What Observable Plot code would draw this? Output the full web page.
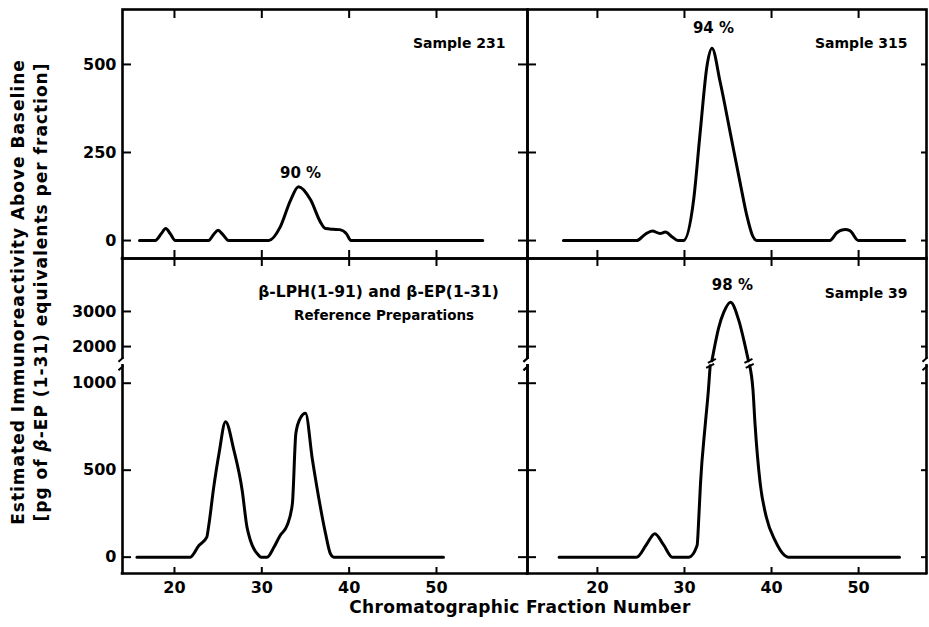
<!DOCTYPE html>
<html><head><meta charset="utf-8">
<script src="https://cdn.jsdelivr.net/npm/d3@7"></script>
<script src="https://cdn.jsdelivr.net/npm/@observablehq/plot@0.6"></script>
<style>
body{margin:0;background:#fff;}
#wrap{position:relative;width:929px;height:627px;background:#fff;font-family:"DejaVu Sans",sans-serif;font-weight:bold;color:#000;overflow:hidden;}
#wrap svg{position:absolute;left:0;top:0;}
.lab{position:absolute;white-space:nowrap;text-align:center;}
</style></head><body>
<div id="wrap"></div>
<script>
// ---- tick values ----
const fractionTicks = [20, 30, 40, 50];
const topTicks = [0, 250, 500];
const bottomTicks = [0, 500, 1000, 2000, 3000];

// ---- Sample 231 ----
const s231x = [16.0, 17.8, 18.5, 19.0, 19.5, 20.1, 23.9, 24.5, 25.0, 25.5, 26.2, 30.8, 32.1, 33.3, 34.2, 35.6, 36.7, 37.3, 38.2, 38.9, 39.7, 40.2, 55.3];
const s231y = [0, 0, 20, 34, 20, 0, 0, 18, 29, 18, 0, 0, 38, 115, 153, 115, 53, 34, 32, 31, 19, 0, 0];

// ---- Sample 315 ----
const s315x = [16.1, 24.5, 25.5, 26.3, 27.2, 27.8, 28.6, 29.3, 29.9, 31.05, 31.8, 32.6, 33.16, 34.1, 35.25, 36.4, 37.2, 37.8, 38.3, 46.7, 47.5, 48.1, 48.45, 49.0, 49.97, 55.3];
const s315y = [0, 0, 18, 27, 20, 24, 10, 0, 0, 115, 306, 498, 546, 450, 307, 163, 67, 15, 0, 0, 22, 30, 31, 28, 0, 0];

// ---- Reference preparations ----
const refx = [15.7, 21.8, 22.8, 23.7, 23.9, 24.5, 25.1, 25.85, 26.8, 27.75, 28.3, 28.7, 29.65, 29.9, 30.6, 31.4, 32.1, 32.9, 33.5, 33.9, 34.4, 35.0, 35.8, 36.5, 37.3, 37.85, 38.25, 50.8];
const refy = [0, 0, 67, 115, 173, 404, 596, 779, 615, 385, 173, 96, 10, 0, 0, 58, 125, 183, 308, 712, 798, 827, 558, 346, 135, 20, 0, 0];

// ---- Sample 39 (segments split at the axis break) ----
const s39x = [15.6, 24.5, 25.6, 26.6, 27.6, 28.6, 30.5, 31.45, 31.65, 31.84, 32.4, 32.75, 32.95,
              33.15, 33.95, 34.52, 35.29, 36.24, 37.0, 37.35,
              37.5, 37.87, 38.1, 38.7, 39.4, 40.4, 41.5, 41.9, 54.7];
const s39y = [0, 0, 70, 135, 70, 0, 0, 67, 231, 423, 769, 961, 1100,
              1593, 2555, 2980, 3265, 2745, 1985, 1593,
              1100, 961, 769, 423, 231, 96, 10, 0, 0];
const s39seg = [0,0,0,0,0,0,0,0,0,0,0,0,0, 1,1,1,1,1,1,1, 2,2,2,2,2,2,2,2,2];
const s39breakX = [32.95, 33.15, 37.35, 37.5];
const s39breakV = [1100, 1593, 1593, 1100];

// ---- labels ----
const pctLabels = ["90 %", "94 %", "98 %"];
const sampleLabels = ["Sample 231", "Sample 315", "Sample 39"];
const refLabels = ["β-LPH(1-91) and β-EP(1-31)", "Reference Preparations"];

// ---- geometry ----
const FONT = '"DejaVu Sans", sans-serif';
const W = 929, H = 627, L = 122, M = 527, R = 926, T = 9, MID = 258, B = 573;
const xDomLeft = [14.05, 60.42], xDomRight = [11.97, 57.8];
const yDomTop = [-51, 656], yDomBot = [-94, 1717];

// broken axis transform for bottom row
const BLO = 1111, BV0 = 1506, BR = 0.2018;
const brk = v => v <= BLO ? v : (v >= BV0 ? BLO + (v - BV0) * BR : BLO);
const unbrk = t => t <= BLO ? t : BV0 + (t - BLO) / BR;
const GAP_LO = 1100, GAP_HI = 1146;

const rows = (xs, ys, extra) => xs.map((x, i) => ({x, y: ys[i], ...(extra ? extra(i) : {})}));
const d231 = rows(s231x, s231y);
const d315 = rows(s315x, s315y);
const dref = rows(refx, refy);
const d39 = rows(s39x, s39y, i => ({seg: s39seg[i]}));
const d39b = s39breakX.map((x, i) => ({x, v: s39breakV[i]}));

function geom(xDom, yDom, left, right, top, bottom) {
  return {xDom, yDom, left, right, top, bottom,
    kx: (right - left) / (xDom[1] - xDom[0]),
    ky: (bottom - top) / (yDom[1] - yDom[0])};
}
const gTL = geom(xDomLeft, yDomTop, L, M, T, MID);
const gTR = geom(xDomRight, yDomTop, M, R, T, MID);
const gBL = geom(xDomLeft, yDomBot, L, M, MID, B);
const gBR = geom(xDomRight, yDomBot, M, R, MID, B);

const xTickMarks = (g, yEdge, upPx, downPx) =>
  Plot.ruleX(fractionTicks, {y1: yEdge - downPx / g.ky, y2: yEdge + upPx / g.ky, strokeWidth: 2, stroke: "black"});
const yTickMarks = (g, vals, xEdge, leftPx, rightPx) =>
  Plot.ruleY(vals, {x1: xEdge - leftPx / g.kx, x2: xEdge + rightPx / g.kx, strokeWidth: 2, stroke: "black"});

function brokenFrame(g) {
  const [x0, x1] = g.xDom, [y0, y1] = g.yDom;
  const fw = {strokeWidth: 2.6, stroke: "black", strokeLinecap: "square"};
  return [
    Plot.ruleY([y0, y1], fw),
    Plot.ruleX([x0, x1], {...fw, y1: y0, y2: GAP_LO}),
    Plot.ruleX([x0, x1], {...fw, y1: GAP_HI, y2: y1}),
    Plot.link([x0, x1], {x1: d => d - 4 / g.kx, x2: d => d + 1 / g.kx, y1: 1123, y2: 1149, strokeWidth: 2, stroke: "black"}),
    Plot.link([x0, x1], {x1: d => d - 4 / g.kx, x2: d => d + 1 / g.kx, y1: 1074, y2: 1100, strokeWidth: 2, stroke: "black"})
  ];
}

const textStyle = {fontSize: 14, fontWeight: "bold", fontFamily: FONT, fill: "black"};
const lineStyle = {stroke: "black", strokeWidth: 3, curve: "monotone-x", strokeLinejoin: "round", strokeLinecap: "round"};

function panel(g, marks, xAxis, yAxis) {
  return Plot.plot({
    width: W, height: H,
    marginLeft: g.left, marginRight: W - g.right, marginTop: g.top, marginBottom: H - g.bottom,
    x: xAxis ? {domain: g.xDom} : {domain: g.xDom, axis: null},
    y: yAxis ? {domain: g.yDom} : {domain: g.yDom, axis: null},
    style: {background: "transparent", overflow: "visible", fontFamily: FONT, fontWeight: "bold", fontSize: "15px", color: "black"},
    marks
  });
}

const yAxisTop = Plot.axisY(topTicks, {anchor: "left", tickSize: 0, tickPadding: 6, label: null, fontSize: 16, fontWeight: "bold", tickFormat: d => String(d)});
const yAxisBot = Plot.axisY(bottomTicks.map(brk), {anchor: "left", tickSize: 0, tickPadding: 6, label: null, fontSize: 16, fontWeight: "bold", tickFormat: t => String(Math.round(unbrk(t)))});
const xAxisBot = Plot.axisX(fractionTicks, {anchor: "bottom", tickSize: 0, tickPadding: 8, label: null, fontSize: 16, fontWeight: "bold", tickFormat: d => String(d)});

const pTL = panel(gTL, [
  Plot.frame({stroke: "black", strokeWidth: 2.6}),
  xTickMarks(gTL, gTL.yDom[1], 0, 9),
  xTickMarks(gTL, gTL.yDom[0], 8, 8),
  yTickMarks(gTL, topTicks, gTL.xDom[0], 0, 9),
  yTickMarks(gTL, topTicks, gTL.xDom[1], 9, 9),
  yAxisTop,
  Plot.line(d231, {x: "x", y: "y", ...lineStyle}),
  Plot.text([sampleLabels[0]], {x: 57.9, y: 560, text: d => d, textAnchor: "end", ...textStyle}),
  Plot.text([pctLabels[0]], {x: 34.43, y: 190, text: d => d, textAnchor: "middle", ...textStyle, fontSize: 15})
], false, true);

const pTR = panel(gTR, [
  Plot.frame({stroke: "black", strokeWidth: 2.6}),
  xTickMarks(gTR, gTR.yDom[1], 0, 9),
  xTickMarks(gTR, gTR.yDom[0], 8, 8),
  yTickMarks(gTR, topTicks, gTR.xDom[1], 5, 0),
  Plot.line(d315, {x: "x", y: "y", ...lineStyle}),
  Plot.text([sampleLabels[1]], {x: 55.62, y: 560, text: d => d, textAnchor: "end", ...textStyle}),
  Plot.text([pctLabels[1]], {x: 33.33, y: 602, text: d => d, textAnchor: "middle", ...textStyle, fontSize: 15})
], false, false);

const pBL = panel(gBL, [
  ...brokenFrame(gBL),
  xTickMarks(gBL, gBL.yDom[0], 6, 0),
  yTickMarks(gBL, bottomTicks.map(brk), gBL.xDom[0], 0, 9),
  yTickMarks(gBL, bottomTicks.map(brk), gBL.xDom[1], 9, 9),
  yAxisBot,
  xAxisBot,
  Plot.line(dref, {x: "x", y: "y", ...lineStyle}),
  Plot.text([refLabels[0]], {x: 43.36, y: brk(3543), text: d => d, textAnchor: "middle", ...textStyle, fontSize: 15.5, letterSpacing: 0.6}),
  Plot.text([refLabels[1]], {x: 44.0, y: brk(2889), text: d => d, textAnchor: "middle", ...textStyle, fontSize: 13.5})
], true, true);

const pBR = panel(gBR, [
  ...brokenFrame(gBR),
  xTickMarks(gBR, gBR.yDom[0], 6, 0),
  yTickMarks(gBR, bottomTicks.map(brk), gBR.xDom[1], 5, 0),
  xAxisBot,
  Plot.line(d39, {x: "x", y: d => brk(d.y), z: "seg", ...lineStyle}),
  Plot.link(d39b, {x1: d => d.x - 4 / gBR.kx, x2: d => d.x + 4 / gBR.kx, y1: d => brk(d.v) - 2 / gBR.ky, y2: d => brk(d.v) + 2 / gBR.ky, stroke: "black", strokeWidth: 2}),
  Plot.text([sampleLabels[2]], {x: 55.62, y: brk(3513), text: d => d, textAnchor: "end", ...textStyle}),
  Plot.text([pctLabels[2]], {x: 35.5, y: brk(3741), text: d => d, textAnchor: "middle", ...textStyle, fontSize: 15})
], true, false);

const wrap = document.getElementById("wrap");
[pTL, pTR, pBL, pBR].forEach(p => wrap.appendChild(p));

const ylab = document.createElement("div");
ylab.className = "lab";
ylab.style.cssText = "left:" + (30 - 265) + "px;top:" + (292 - 23) + "px;width:530px;height:46px;line-height:23px;font-size:17px;letter-spacing:1px;transform:rotate(-90deg);";
ylab.innerHTML = "Estimated Immunoreactivity Above Baseline<br>[pg of <i>β</i>-EP (1-31) equivalents per fraction]";
wrap.appendChild(ylab);

const xlab = document.createElement("div");
xlab.className = "lab";
xlab.style.cssText = "left:" + (520 - 250) + "px;top:" + (607 - 11) + "px;width:500px;height:22px;line-height:22px;font-size:17px;letter-spacing:0.3px;";
xlab.textContent = "Chromatographic Fraction Number";
wrap.appendChild(xlab);
</script>
</body></html>
